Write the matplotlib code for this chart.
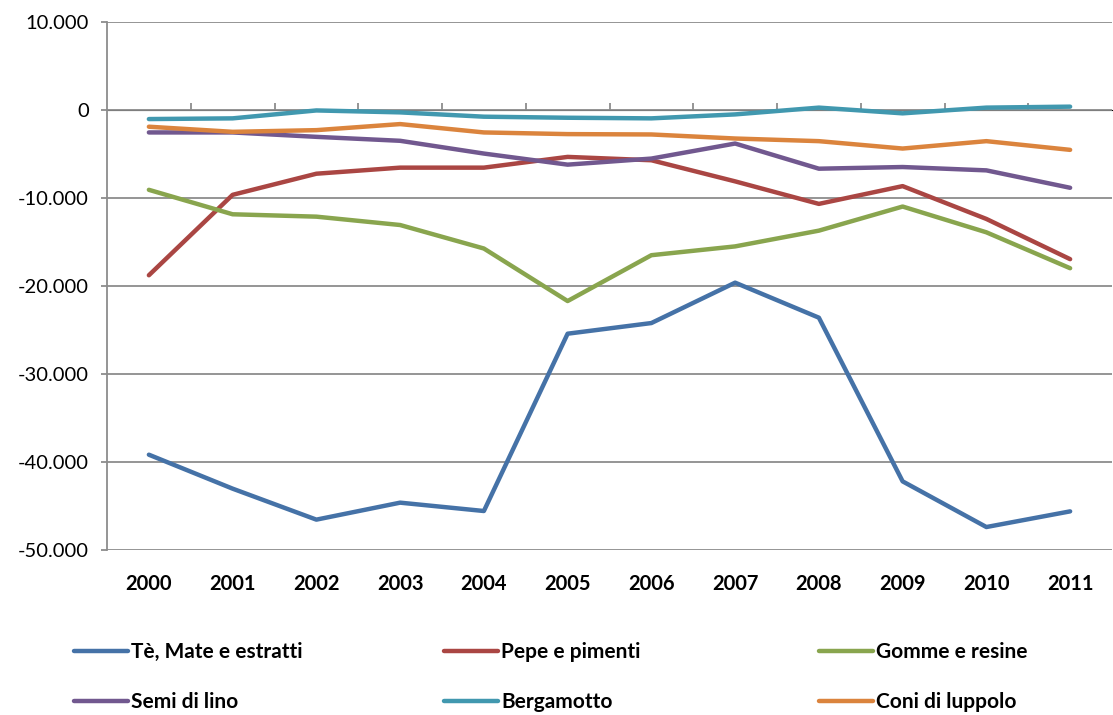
import matplotlib
matplotlib.use("Agg")
import matplotlib.pyplot as plt
from matplotlib.ticker import FuncFormatter

plt.rcParams['font.family'] = ['Lato', 'DejaVu Sans']

years = [2000, 2001, 2002, 2003, 2004, 2005, 2006, 2007, 2008, 2009, 2010, 2011]

# values
te_mate = [-39170, -43030, -46550, -44620, -45570, -25420, -24210, -19620, -23600, -42200, -47390, -45610]
pepe = [-18780, -9640, -7240, -6550, -6550, -5330, -5710, -8110, -10670, -8650, -12380, -16950]
gomme = [-9070, -11850, -12120, -13070, -15740, -21710, -16500, -15500, -13710, -10970, -13900, -17980]
semi_lino = [-2550, -2550, -3050, -3500, -4950, -6210, -5520, -3810, -6670, -6480, -6860, -8840]
bergamotto = [-1030, -950, -50, -270, -760, -880, -950, -500, 270, -380, 270, 380]
luppolo = [-1900, -2480, -2290, -1600, -2550, -2740, -2780, -3240, -3540, -4380, -3540, -4530]

series = [
    ("Tè, Mate e estratti", te_mate, "#4572A7"),
    ("Pepe e pimenti", pepe, "#AA4643"),
    ("Gomme e resine", gomme, "#89A54E"),
    ("Semi di lino", semi_lino, "#71588F"),
    ("Bergamotto", bergamotto, "#4198AF"),
    ("Coni di luppolo", luppolo, "#DB843D"),
]

fig = plt.figure(figsize=(11.13, 7.15), dpi=100)
ax = fig.add_axes([107/1113, 1 - 550/715, (1112-107)/1113, 528/715])

x = list(range(len(years)))
lines = []
for name, vals, col in series:
    ln, = ax.plot(x, vals, color=col, lw=3.2, label=name, solid_capstyle='round')
    lines.append(ln)

ax.set_xlim(-0.5, len(years) - 0.5)
ax.set_ylim(-50000, 10000)
ax.set_yticks(range(-50000, 10001, 10000))
ax.yaxis.set_major_formatter(FuncFormatter(lambda v, p: f"{int(v):,}".replace(",", ".")))
ax.grid(axis='y', color='#8c8c8c', lw=1.3)
ax.set_axisbelow(True)

for s in ['top', 'right', 'bottom']:
    ax.spines[s].set_visible(False)
ax.spines['left'].set_color('#8c8c8c')
ax.spines['left'].set_linewidth(1.3)

ax.set_xticks(x)
ax.set_xticklabels([str(y) for y in years], fontweight='bold', fontsize=14.5)
ax.tick_params(axis='x', length=0, pad=17)
ax.tick_params(axis='y', length=4, color='#8c8c8c', width=1.3, labelsize=14.5, pad=9)

# category axis crossing at zero, with ticks between categories
sec = ax.secondary_xaxis(5/6)
sec.set_xticks([i + 0.5 for i in x[:-1]])
sec.tick_params(axis='x', direction='out', length=5, color='#8c8c8c', width=1.3, labelbottom=False, labeltop=False)
sec.spines['bottom'].set_color('#8c8c8c')
sec.spines['bottom'].set_linewidth(1.3)

# legend, three columns of two rows
col_x = [74/1113, 444/1113, 819/1113]
for i, cx in enumerate(col_x):
    leg = fig.legend([lines[i], lines[i + 3]], [series[i][0], series[i + 3][0]],
                     loc='upper left', bbox_to_anchor=(cx, 1 - 642/715),
                     frameon=False, handlelength=2.6, handletextpad=0.15,
                     labelspacing=1.45, borderpad=0, borderaxespad=0,
                     prop={'weight': 'bold', 'size': 15})

fig.savefig("out.png", dpi=100)
